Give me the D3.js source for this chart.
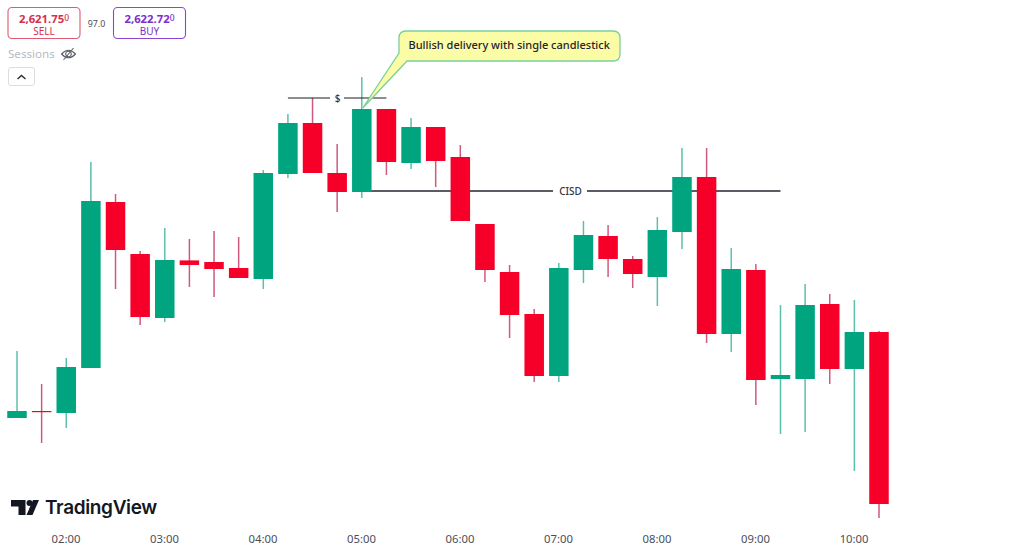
<!DOCTYPE html>
<html><head><meta charset="utf-8">
<script src="https://cdnjs.cloudflare.com/ajax/libs/d3/7.8.5/d3.min.js"></script>
<style>html,body{margin:0;padding:0;background:#fff;overflow:hidden}svg{display:block}</style>
</head><body><svg id="c" width="1024" height="549"></svg>
<script>
const startTime = "2024-01-01T01:30:00Z";
const barMinutes = 15;
const opens  = [2626.05,2626.40,2626.30,2628.55,2636.85,2634.25,2631.05,2633.93,2633.85,2633.55,2633.00,2638.25,2640.80,2638.30,2637.35,2641.50,2638.80,2640.60,2639.10,2635.75,2633.35,2631.25,2628.15,2633.45,2635.15,2634.00,2633.10,2635.35,2638.10,2630.25,2633.45,2628.00,2628.00,2631.75,2628.50,2630.35];
const highs  = [2629.40,2627.75,2629.05,2638.85,2637.25,2634.40,2635.55,2635.00,2635.40,2635.10,2638.45,2641.25,2642.05,2639.75,2643.10,2641.50,2641.05,2640.60,2639.70,2635.75,2633.70,2631.50,2633.80,2635.90,2635.70,2634.15,2636.10,2639.55,2639.55,2634.55,2633.75,2631.70,2632.75,2632.25,2631.95,2630.40];
const lows   = [2626.05,2624.80,2625.55,2628.55,2632.50,2630.70,2630.85,2632.60,2632.10,2633.05,2632.50,2638.05,2638.30,2636.35,2637.05,2638.20,2638.50,2637.60,2635.90,2632.85,2630.05,2627.85,2627.85,2632.80,2633.10,2632.55,2631.65,2634.50,2629.80,2629.35,2626.70,2625.25,2625.35,2627.75,2623.40,2621.05];
const closes = [2626.40,2626.35,2628.60,2636.90,2634.45,2631.10,2633.95,2633.70,2633.50,2633.05,2638.30,2640.80,2638.30,2637.35,2641.50,2638.85,2640.60,2638.90,2635.90,2633.45,2631.20,2628.15,2633.55,2635.20,2634.00,2633.25,2635.45,2638.10,2630.25,2633.50,2627.95,2628.20,2631.70,2628.50,2630.35,2621.75];
const hourTicks = ["02:00","03:00","04:00","05:00","06:00","07:00","08:00","09:00","10:00"];
const sweepLevel = {price:2642.05, from:11, to:15, label:"$"};
const cisdLevel  = {price:2637.40, from:14, to:31, label:"CISD"};
const calloutText = "Bullish delivery with single candlestick";
const calloutBar = 14;
const sellQuote = ["2,621.75","0","SELL"];
const buyQuote = ["2,622.72","0","BUY"];
const spreadText = "97.0";
const sessionsText = "Sessions";
const brandText = "TradingView";

const UP="#00a580", DOWN="#f60029", UPW="#5cbfab", DOWNW="#cf5a7e";
const font="'Noto Sans', 'Open Sans', sans-serif";
const svg=d3.select("#c");
const t0=new Date(startTime).getTime(), dt=barMinutes*60000;
const timeAt=i=>new Date(t0+i*dt);
const x=d3.scaleUtc().domain([timeAt(0),timeAt(35)]).range([17,879]);
const y=d3.scaleLinear().domain([2646.95,2619.5]).range([0,549]);
const bars=opens.map((o,i)=>({i,o,h:highs[i],l:lows[i],c:closes[i]}));
const bw=19.5;

function level(L,gapL,gapR,sw,col){
  const x0=x(timeAt(L.from)),x1=x(timeAt(L.to)),yy=y(L.price);
  svg.append("line").attr("x1",x0).attr("x2",gapL).attr("y1",yy).attr("y2",yy).attr("stroke",col).attr("stroke-width",sw);
  svg.append("line").attr("x1",gapR).attr("x2",x1).attr("y1",yy).attr("y2",yy).attr("stroke",col).attr("stroke-width",sw);
  svg.append("text").attr("x",(gapL+gapR)/2+.5).attr("y",yy+3.7).attr("text-anchor","middle")
    .attr("font-family",font).attr("font-size",10).attr("font-weight",500).attr("fill","#33363f").text(L.label);
}
level(cisdLevel,553,587,2,"#5a5c64");

const g=svg.append("g");
g.selectAll("line.w").data(bars).join("line").attr("class","w")
  .attr("x1",d=>x(timeAt(d.i))).attr("x2",d=>x(timeAt(d.i)))
  .attr("y1",d=>y(d.h)).attr("y2",d=>y(d.l))
  .attr("stroke",d=>d.c>=d.o?UPW:DOWNW).attr("stroke-width",1.5);
g.selectAll("rect").data(bars).join("rect")
  .attr("x",d=>x(timeAt(d.i))-bw/2).attr("width",bw)
  .attr("y",d=>y(Math.max(d.o,d.c)))
  .attr("height",d=>Math.max(1.2,Math.abs(y(d.o)-y(d.c))))
  .attr("fill",d=>d.c>=d.o?UP:DOWN);

level(sweepLevel,330,344,1,"#1b1d24");

const tipX=x(timeAt(calloutBar)), tipY=y(opens[15])-1;
const bx=399,by=31,bw2=221,bh=30,r=7;
const co=d3.path();
co.moveTo(bx+r,by);co.lineTo(bx+bw2-r,by);co.quadraticCurveTo(bx+bw2,by,bx+bw2,by+r);
co.lineTo(bx+bw2,by+bh-r);co.quadraticCurveTo(bx+bw2,by+bh,bx+bw2-r,by+bh);
co.lineTo(407,by+bh);co.lineTo(tipX+1,tipY);co.lineTo(bx,53);co.lineTo(bx,by+r);co.quadraticCurveTo(bx,by,bx+r,by);co.closePath();
svg.append("path").attr("d",co.toString()).attr("fill","#fbfca6").attr("stroke","#7ccf9e").attr("stroke-width",1.3);
svg.append("text").attr("x",408.5).attr("y",49).attr("font-family",font).attr("font-size",11).attr("font-weight",500)
  .attr("fill","#1e222d").text(calloutText);

function quote(q,X,W,stroke,col){
  svg.append("rect").attr("x",X+.5).attr("y",7.5).attr("width",W).attr("height",31).attr("rx",4)
    .attr("fill","#fff").attr("stroke",stroke).attr("stroke-width",1.1);
  const t=svg.append("text").attr("x",X+W/2+.5).attr("y",22.5).attr("text-anchor","middle")
    .attr("font-family",font).attr("font-size",11.3).attr("font-weight",700).attr("fill",col);
  t.append("tspan").text(q[0]);
  t.append("tspan").attr("font-size",8.5).attr("font-weight",500).attr("dy",-2).text(q[1]);
  svg.append("text").attr("x",X+W/2+.5).attr("y",34.5).attr("text-anchor","middle")
    .attr("font-family",font).attr("font-size",10).attr("fill",col).text(q[2]);
}
quote(sellQuote,7.5,72,"#dd5a70","#d5304d");
quote(buyQuote,113,72,"#8d45d6","#7d2fcb");
svg.append("text").attr("x",96.5).attr("y",26.5).attr("text-anchor","middle").attr("font-family",font)
  .attr("font-size",8.8).attr("fill","#4a4e59").text(spreadText);
svg.append("text").attr("x",8).attr("y",58).attr("font-family",font).attr("font-size",11.6).attr("fill","#b6bac4").text(sessionsText);

const eye=svg.append("g").attr("transform","translate(68.5,54)").attr("fill","none").attr("stroke","#5d6069").attr("stroke-width",1.1);
eye.append("path").attr("d","M-7,0 Q0,-7.5 7,0 Q0,7.5 -7,0Z");
eye.append("circle").attr("r",2.8);
eye.append("line").attr("x1",-5).attr("y1",6).attr("x2",5).attr("y2",-6);

svg.append("rect").attr("x",8.5).attr("y",67.5).attr("width",26).attr("height",18).attr("rx",2.5).attr("fill","#fff").attr("stroke","#dcdde0");
svg.append("path").attr("d","M17.5,79 L21.5,75.5 L25.5,79").attr("fill","none").attr("stroke","#2a2e39").attr("stroke-width",1.4);

const logo=svg.append("g").attr("fill","#131722");
logo.append("path").attr("d","M11,500 H25.5 V515 H18.5 V506.5 H11Z");
logo.append("circle").attr("cx",29.5).attr("cy",503).attr("r",3);
logo.append("path").attr("d","M33,500 H39 L32.5,515 H26.5Z");
logo.append("text").attr("x",45).attr("y",514).attr("font-family","Inter, Roboto, sans-serif").attr("font-size",19).attr("font-weight",600).attr("letter-spacing",-.35).text(brandText);

const fmt=d3.utcFormat("%H:%M");
const tickDates=hourTicks.map(s=>new Date("2024-01-01T"+s+":00Z"));
const ax=svg.append("g").attr("transform","translate(-0.8,527.5)")
  .call(d3.axisBottom(x).tickValues(tickDates).tickFormat(fmt).tickSize(0));
ax.select(".domain").remove();
ax.selectAll("text").attr("font-family",font).attr("font-size",11.3).attr("fill","#4a4e59").attr("dy","0.71em").attr("y",7);
</script></body></html>
